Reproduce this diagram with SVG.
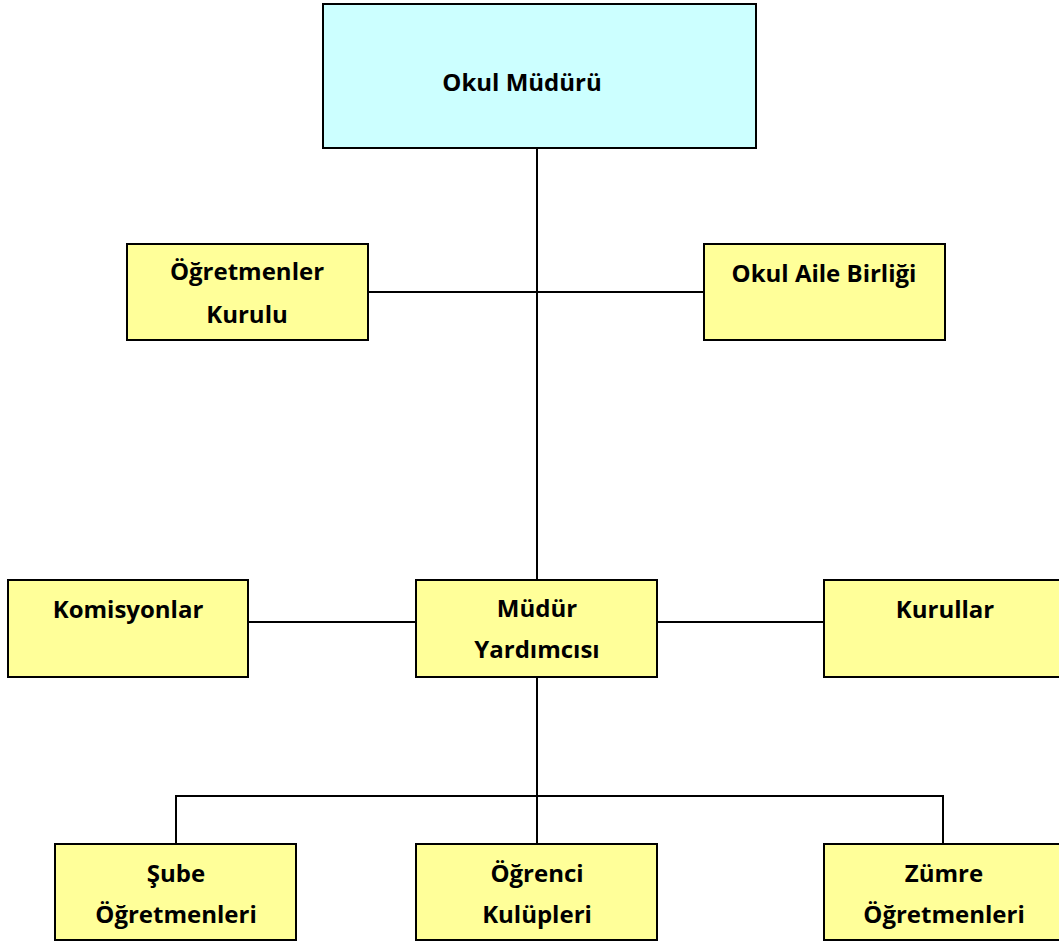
<svg xmlns="http://www.w3.org/2000/svg" width="1059" height="943" viewBox="0 0 1059 943">
<style>
.box{fill:#FFFF99;stroke:#000;stroke-width:2}
.top{fill:#CCFFFF;stroke:#000;stroke-width:2}
.t{font-family:"Open Sans","Noto Sans","DejaVu Sans",sans-serif;font-weight:bold;font-size:24px;fill:#000;text-anchor:middle}
.c{stroke:#000;stroke-width:2;fill:none}
</style>
<rect width="1059" height="943" fill="#fff"/>
<g id="connectors">
<line class="c" x1="537" y1="148" x2="537" y2="580"/>
<line class="c" x1="368" y1="292" x2="704" y2="292"/>
<line class="c" x1="248" y1="622" x2="416" y2="622"/>
<line class="c" x1="657" y1="622" x2="824" y2="622"/>
<line class="c" x1="537" y1="677" x2="537" y2="844"/>
<polyline class="c" points="176,844 176,796 943,796 943,844"/>
</g>
<g id="okul-muduru">
<rect class="top" x="323" y="4" width="433" height="144"/>
<text class="t" x="522" y="91">Okul Müdürü</text>
</g>
<g id="ogretmenler-kurulu">
<rect class="box" x="127" y="244" width="241" height="96"/>
<text class="t" x="247" y="280">Öğretmenler</text>
<text class="t" x="247" y="323">Kurulu</text>
</g>
<g id="okul-aile-birligi">
<rect class="box" x="704" y="244" width="241" height="96"/>
<text class="t" x="824" y="282">Okul Aile Birliği</text>
</g>
<g id="komisyonlar">
<rect class="box" x="8" y="580" width="240" height="97"/>
<text class="t" x="128" y="618">Komisyonlar</text>
</g>
<g id="mudur-yardimcisi">
<rect class="box" x="416" y="580" width="241" height="97"/>
<text class="t" x="537" y="617">Müdür</text>
<text class="t" x="537" y="658">Yardımcısı</text>
</g>
<g id="kurullar">
<rect class="box" x="824" y="580" width="240" height="97"/>
<text class="t" x="945" y="618">Kurullar</text>
</g>
<g id="sube-ogretmenleri">
<rect class="box" x="55" y="844" width="241" height="96"/>
<text class="t" x="176" y="882">Şube</text>
<text class="t" x="176" y="923">Öğretmenleri</text>
</g>
<g id="ogrenci-kulupleri">
<rect class="box" x="416" y="844" width="241" height="96"/>
<text class="t" x="537" y="882">Öğrenci</text>
<text class="t" x="537" y="923">Kulüpleri</text>
</g>
<g id="zumre-ogretmenleri">
<rect class="box" x="824" y="844" width="240" height="96"/>
<text class="t" x="944" y="882">Zümre</text>
<text class="t" x="944" y="923">Öğretmenleri</text>
</g>
</svg>
